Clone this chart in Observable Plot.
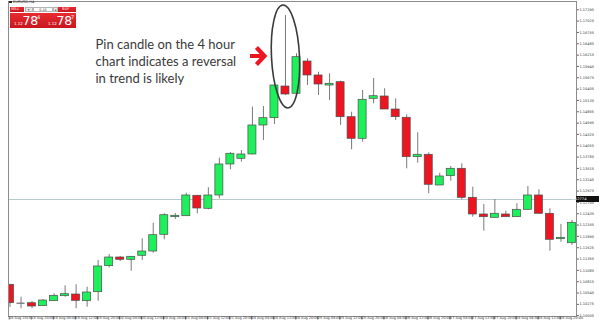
<!DOCTYPE html>
<html><head><meta charset="utf-8">
<script src="https://cdn.jsdelivr.net/npm/d3@7"></script>
<script src="https://cdn.jsdelivr.net/npm/@observablehq/plot@0.6"></script>
<style>
html,body{margin:0;padding:0;background:#fff;}
#wrap{position:relative;width:600px;height:323px;overflow:hidden;font-family:"DejaVu Sans",sans-serif;}
#wrap svg{position:absolute;left:0;top:0;}
.ov{position:absolute;box-sizing:border-box;white-space:nowrap;line-height:1;}
.title{left:9px;top:0.5px;font-size:3.6px;color:#222;}
.title b{display:inline-block;width:2.5px;height:2.5px;background:#222;margin-right:1.5px;vertical-align:middle;}
.tb{top:6.5px;height:5.5px;font-size:3.4px;padding-top:1px;}
.red{background:linear-gradient(#ea2a32,#c8161d);color:#fff;}
.grey{background:#e6e6e6;border:0.5px solid #b5b5b5;color:#555;text-align:center;}
.white{background:#fff;border:0.5px solid #b5b5b5;color:#333;text-align:center;}
.pb{top:12.5px;height:15.5px;}
.pb .s{position:absolute;font-size:4px;top:9.5px;}
.pb .b{position:absolute;font-size:12.5px;top:2px;letter-spacing:-0.3px;}
.pb .u{position:absolute;font-size:5px;top:2px;}
</style></head>
<body><div id="wrap"></div>
<script>
// ---- data (EURUSD, H4, 18–28 Aug 2015) ----
const timeLabels = ["18 Aug 2015","18 Aug 20:00","19 Aug 04:00","19 Aug 12:00","19 Aug 20:00","20 Aug 04:00","20 Aug 12:00","20 Aug 20:00","21 Aug 04:00","21 Aug 12:00","21 Aug 20:00","24 Aug 04:00","24 Aug 12:00","24 Aug 20:00","25 Aug 04:00","25 Aug 12:00","25 Aug 20:00","26 Aug 04:00","26 Aug 12:00","26 Aug 20:00","27 Aug 04:00","27 Aug 12:00","27 Aug 20:00","28 Aug 04:00","28 Aug 12:00","28 Aug 20:00"];
const open  = [1.10742,1.10303,1.10303,1.10232,1.10351,1.10470,1.10510,1.10351,1.10565,1.11185,1.11392,1.11337,1.11433,1.11535,1.11933,1.12353,1.12376,1.12863,1.12553,1.12870,1.13609,1.13744,1.13847,1.14538,1.14712,1.15467,1.15294,1.16063,1.15730,1.15491,1.15570,1.14736,1.14221,1.15174,1.15229,1.14919,1.14722,1.13783,1.13840,1.13108,1.13330,1.13506,1.12815,1.12417,1.12338,1.12417,1.12353,1.12529,1.12870,1.12434,1.11828,1.11733];
const high  = [1.10742,1.10446,1.10344,1.10391,1.10527,1.10718,1.10742,1.10684,1.11321,1.11464,1.11416,1.11416,1.11838,1.12210,1.12434,1.12441,1.12925,1.12870,1.13053,1.13759,1.13895,1.13942,1.14974,1.14991,1.15491,1.17160,1.16247,1.16128,1.15808,1.15770,1.15594,1.14855,1.15372,1.15658,1.15413,1.15174,1.14793,1.14364,1.13887,1.13401,1.13561,1.13625,1.13068,1.12655,1.12774,1.12496,1.12672,1.13084,1.13006,1.12553,1.12179,1.12274];
const low   = [1.10201,1.10170,1.10170,1.10224,1.10351,1.10446,1.10170,1.10208,1.10351,1.11147,1.11297,1.11066,1.11321,1.11495,1.11814,1.12298,1.12376,1.12434,1.12529,1.12791,1.13482,1.13663,1.13840,1.14181,1.14562,1.15253,1.15294,1.15491,1.15253,1.15134,1.14538,1.13959,1.14140,1.15055,1.14919,1.14657,1.13506,1.13640,1.12910,1.13108,1.13211,1.12767,1.12353,1.12019,1.12338,1.12353,1.12353,1.12529,1.12434,1.11542,1.11757,1.11678];
const close = [1.10303,1.10303,1.10224,1.10367,1.10479,1.10518,1.10360,1.10558,1.11178,1.11392,1.11337,1.11409,1.11535,1.11924,1.12400,1.12386,1.12870,1.12560,1.12870,1.13609,1.13864,1.13847,1.14538,1.14712,1.15491,1.15277,1.16166,1.15730,1.15515,1.15532,1.14736,1.14221,1.15151,1.15236,1.14919,1.14736,1.13783,1.13840,1.13125,1.13323,1.13506,1.12815,1.12417,1.12353,1.12434,1.12353,1.12529,1.12870,1.12434,1.11814,1.11862,1.12219];
const priceTicks = [1.17295,1.17025,1.16755,1.16485,1.16215,1.15945,1.15675,1.15405,1.15135,1.14865,1.14595,1.14325,1.14055,1.13785,1.13515,1.13245,1.12975,1.12705,1.12435,1.12165,1.11895,1.11625,1.11355,1.11085,1.10815,1.10545,1.10275,1.10005];
const currentPrice = 1.12774;
const noteLines = ["Pin candle on the 4 hour","chart indicates a reversal","in trend is likely"];
const pinIndex = 25;
const symbolTitle = "EURUSD,H4";
const sellQuote = ["1.12","78","4"];
const buyQuote  = ["1.12","78","7"];
const lotSize = "0.10";

// ---- build ----
const UP = "#1ef05c", DOWN = "#ee1520", FLAT = "#8a8a8a";
const candles = open.map((o, i) => ({
  i, o, h: high[i], l: low[i], c: close[i],
  col: close[i] > o ? UP : close[i] < o ? DOWN : FLAT
}));
const bodies = candles.filter(d => d.o !== d.c);
const flats = candles.filter(d => d.o === d.c);
const half = 0.364;
const noteLeft = 95;

const chart = Plot.plot({
  width: 600, height: 323,
  marginLeft: 8, marginRight: 24, marginTop: 1, marginBottom: 7,
  x: {domain: [-0.136, 51.41], label: null},
  y: {domain: [1.09986, 1.17493], label: null},
  color: {type: "identity"},
  style: {background: "transparent", fontFamily: "DejaVu Sans, sans-serif", overflow: "visible"},
  marks: [
    Plot.ruleY([currentPrice], {stroke: "#b7c9cd", strokeWidth: 1}),
    Plot.ruleX(candles, {x: "i", y1: "l", y2: "h", stroke: "#7a7a7a", strokeWidth: 1, clip: true}),
    Plot.rect(bodies, {x1: d => d.i - half, x2: d => d.i + half, y1: d => Math.min(d.o, d.c), y2: d => Math.max(d.o, d.c), fill: "col", stroke: "#4d4d4d", strokeWidth: 0.7, clip: true}),
    Plot.ruleY(flats, {y: "o", x1: d => d.i - half, x2: d => d.i + half, stroke: "#6a6a6a", strokeWidth: 1.2, clip: true}),
    Plot.frame({stroke: "#8c8c8c"}),
    Plot.axisY(priceTicks, {anchor: "right", label: null, tickSize: 2, tickPadding: 1, tickFormat: d => d.toFixed(5), fontSize: 3.5, fill: "#333", stroke: "#666"}),
    Plot.axisX(timeLabels.map((_, k) => 2 * k - 0.18), {anchor: "bottom", label: null, tickSize: 3.5, tickPadding: -3.2, textAnchor: "start", dx: 1.2, tickFormat: d => timeLabels[Math.round((d + 0.18) / 2)], fontSize: 3.4, fill: "#333", stroke: "#666"}),
    Plot.text([noteLines.join("\n")], {frameAnchor: "top-left", dx: noteLeft - 8, dy: 35.5, lineAnchor: "top", textAnchor: "start", lineHeight: 1.31, fontSize: 13, fontFamily: "Lato", fill: "#3a3a3a", ariaLabel: "note"})
  ]
});

const svg = d3.select(chart);
// slightly condensed annotation face
svg.select('g[aria-label="note"]').attr("transform", `translate(${noteLeft},0) scale(0.88,1) translate(${-noteLeft},0)`);
const xs = chart.scale("x"), ys = chart.scale("y");
const px = xs.apply(pinIndex);
const yTop = ys.apply(high[pinIndex]), yBot = ys.apply(low[pinIndex]);
const cy = (yTop + yBot) / 2 + 1.5;
svg.append("ellipse")
  .attr("cx", px + 0.5).attr("cy", cy)
  .attr("rx", 14).attr("ry", (yBot - yTop) / 2 + 11.5)
  .attr("transform", `rotate(-2.8 ${px + 0.5} ${cy})`)
  .attr("fill", "none").attr("stroke", "#3a3a3a").attr("stroke-width", 1.6);
svg.append("path")
  .attr("d", `M${px - 35},${cy - 0.5}H${px - 22} M${px - 28.5},${cy - 9}L${px - 20.5},${cy - 0.5}L${px - 28.5},${cy + 8}`)
  .attr("fill", "none").attr("stroke", "#ee1520").attr("stroke-width", 4.2).attr("stroke-linejoin", "miter");
const yc = ys.apply(currentPrice);
svg.append("rect").attr("x", 576).attr("y", yc - 3).attr("width", 23).attr("height", 6).attr("fill", "#111");
svg.append("text").attr("x", 579).attr("y", yc + 1.3).attr("font-size", 3.6).attr("fill", "#fff").text(currentPrice.toFixed(5));

const wrap = document.getElementById("wrap");
wrap.appendChild(chart);

function box(cls, left, width, html) {
  const d = document.createElement("div");
  d.className = "ov " + cls;
  d.style.left = left + "px"; d.style.width = width + "px";
  d.innerHTML = html;
  wrap.appendChild(d);
  return d;
}
const t = document.createElement("div");
t.className = "ov title"; t.innerHTML = "<b></b>" + symbolTitle; wrap.appendChild(t);
box("tb red", 10, 14, "&nbsp;SELL");
box("tb grey", 24.5, 8, "▾");
box("tb white", 33, 20, lotSize);
box("tb grey", 53, 5, "▴");
box("tb red", 58, 18, "&nbsp;&nbsp;&nbsp;&nbsp;BUY");
function quote(left, width, q) {
  box("pb red", left, width,
    `<span class="s" style="left:4px">${q[0]}</span><span class="b" style="left:12.5px">${q[1]}</span><span class="u" style="left:27px">${q[2]}</span>`);
}
quote(10, 33.5, sellQuote);
quote(44, 32, buyQuote);
</script>
</body></html>
